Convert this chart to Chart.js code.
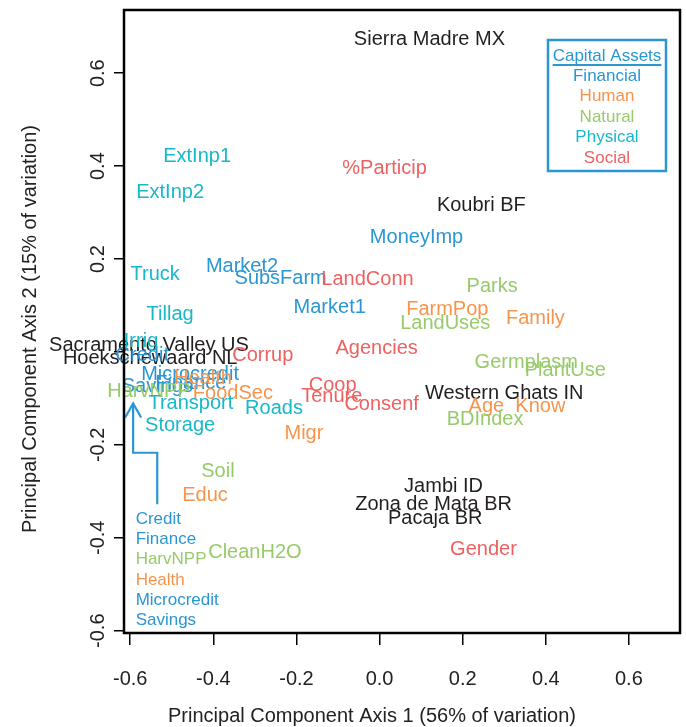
<!DOCTYPE html>
<html>
<head>
<meta charset="utf-8">
<script src="https://cdn.jsdelivr.net/npm/chart.js@4.4.0/dist/chart.umd.min.js"></script>
<style>
  html, body { margin: 0; padding: 0; background: #fff; }
  #wrap { width: 686px; height: 727px; }
</style>
</head>
<body>
<div id="wrap"><canvas id="pca" width="686" height="727"></canvas></div>
<script>
// capital asset groups
const groups = ["Financial", "Human", "Natural", "Physical", "Social"];
const groupColors = ["#2A96D2", "#F7944B", "#97CB6A", "#17B9C9", "#EE6161"];
const siteColor = "#231F20";

// study sites
const siteLabels = ["Sierra Madre MX", "Koubri BF", "Sacramento Valley US", "Hoekschewaard NL",
  "Western Ghats IN", "Jambi ID", "Zona de Mata BR", "Pacaja BR"];
const siteX = [0.120, 0.245, -0.555, -0.552, 0.300, 0.154, 0.130, 0.134];
const siteY = [0.676, 0.319, 0.018, -0.010, -0.085, -0.286, -0.323, -0.354];

// asset variables, one set per group
const financialLabels = ["Market2", "SubsFarm", "Market1", "MoneyImp", "Credit", "Microcredit", "Finance", "Savings"];
const financialX = [-0.331, -0.238, -0.120, 0.089, -0.571, -0.456, -0.454, -0.535];
const financialY = [0.189, 0.163, 0.101, 0.250, -0.003, -0.044, -0.064, -0.070];

const humanLabels = ["FarmPop", "Family", "Age", "Know", "Migr", "Educ", "Health", "FoodSec"];
const humanX = [0.163, 0.375, 0.257, 0.387, -0.182, -0.420, -0.425, -0.353];
const humanY = [0.096, 0.077, -0.113, -0.113, -0.172, -0.304, -0.053, -0.085];

const naturalLabels = ["Parks", "LandUses", "Germplasm", "PlantUse", "BDIndex", "Soil", "CleanH2O", "HarvNPP"];
const naturalX = [0.271, 0.158, 0.353, 0.447, 0.254, -0.389, -0.300, -0.555];
const naturalY = [0.146, 0.066, -0.019, -0.036, -0.142, -0.254, -0.427, -0.081];

const physicalLabels = ["ExtInp1", "ExtInp2", "Truck", "Tillag", "Irrig", "Transport", "Storage", "Roads"];
const physicalX = [-0.439, -0.504, -0.540, -0.504, -0.574, -0.454, -0.480, -0.254];
const physicalY = [0.425, 0.347, 0.170, 0.085, 0.027, -0.107, -0.155, -0.118];

const socialLabels = ["%Particip", "LandConn", "Agencies", "Corrup", "Coop", "Tenure", "Consenf", "Gender"];
const socialX = [0.012, -0.029, -0.007, -0.281, -0.113, -0.115, 0.005, 0.250];
const socialY = [0.399, 0.161, 0.012, -0.003, -0.068, -0.092, -0.109, -0.420];

// callout for the crowded cluster on the left
const calloutLabels = ["Credit", "Finance", "HarvNPP", "Health", "Microcredit", "Savings"];
const calloutGroups = ["Financial", "Financial", "Natural", "Human", "Financial", "Financial"];
const calloutStart = { x: -0.587, y: -0.360, step: 0.0437 };
const arrowPathX = [-0.535, -0.535, -0.593, -0.593];
const arrowPathY = [-0.328, -0.217, -0.217, -0.111];

const xTitle = "Principal Component Axis 1 (56% of variation)";
const yTitle = "Principal Component Axis 2 (15% of variation)";

const FONT = "'Liberation Sans', Arial, Helvetica, sans-serif";

function points(labels, xs, ys) {
  return labels.map((l, i) => ({ x: xs[i], y: ys[i], label: l }));
}

const datasets = [
  { label: "Sites", data: points(siteLabels, siteX, siteY), color: siteColor },
  { label: "Financial", data: points(financialLabels, financialX, financialY), color: groupColors[0] },
  { label: "Human", data: points(humanLabels, humanX, humanY), color: groupColors[1] },
  { label: "Natural", data: points(naturalLabels, naturalX, naturalY), color: groupColors[2] },
  { label: "Physical", data: points(physicalLabels, physicalX, physicalY), color: groupColors[3] },
  { label: "Social", data: points(socialLabels, socialX, socialY), color: groupColors[4] },
].map((d) => ({ ...d, pointRadius: 0, pointHoverRadius: 0, backgroundColor: d.color, borderColor: d.color }));

// writes each point's name at its position
const textLabels = {
  id: "textLabels",
  afterDatasetsDraw(chart) {
    const ctx = chart.ctx;
    ctx.save();
    ctx.font = "20px " + FONT;
    ctx.textAlign = "center";
    ctx.textBaseline = "middle";
    chart.data.datasets.forEach((ds, i) => {
      const meta = chart.getDatasetMeta(i);
      ctx.fillStyle = ds.color;
      meta.data.forEach((el, j) => {
        // canvas "middle" sits a little high compared to R's centring
        ctx.fillText(ds.data[j].label, el.x, el.y + 2);
      });
    });
    ctx.restore();
  },
};

// box, y tick labels, titles, legend and callout
const decorations = {
  id: "decorations",
  afterDraw(chart) {
    const ctx = chart.ctx;
    const a = chart.chartArea;
    const xs = chart.scales.x;
    const ys = chart.scales.y;
    ctx.save();

    // y tick labels, rotated like R's default
    ctx.fillStyle = "#222";
    ctx.font = "20px " + FONT;
    ctx.textAlign = "center";
    ctx.textBaseline = "middle";
    ys.ticks.forEach((t) => {
      if (Math.abs(t.value) < 1e-9) return;
      ctx.save();
      ctx.translate(98, ys.getPixelForValue(t.value));
      ctx.rotate(-Math.PI / 2);
      ctx.fillText(t.value.toFixed(1), 0, 0);
      ctx.restore();
    });

    // axis titles
    ctx.fillText(xTitle, 372, 716);
    ctx.save();
    ctx.translate(30, 329);
    ctx.rotate(-Math.PI / 2);
    ctx.fillText(yTitle, 0, 0);
    ctx.restore();

    // callout list
    ctx.font = "17px " + FONT;
    ctx.textAlign = "left";
    const lx = xs.getPixelForValue(calloutStart.x);
    calloutLabels.forEach((l, i) => {
      ctx.fillStyle = groupColors[groups.indexOf(calloutGroups[i])];
      ctx.fillText(l, lx, ys.getPixelForValue(calloutStart.y - i * calloutStart.step));
    });

    // callout arrow
    ctx.strokeStyle = groupColors[0];
    ctx.lineWidth = 2.2;
    ctx.beginPath();
    arrowPathX.forEach((v, i) => {
      const px = xs.getPixelForValue(v);
      const py = ys.getPixelForValue(arrowPathY[i]);
      if (i === 0) ctx.moveTo(px, py); else ctx.lineTo(px, py);
    });
    ctx.stroke();
    const tx = xs.getPixelForValue(arrowPathX[3]);
    const ty = ys.getPixelForValue(arrowPathY[3]);
    ctx.beginPath();
    ctx.moveTo(tx - 8, ty + 14);
    ctx.lineTo(tx, ty);
    ctx.lineTo(tx + 8, ty + 14);
    ctx.stroke();

    // legend box
    const bx = a.right - 132, by = a.top + 30, bw = 118, bh = 131;
    ctx.strokeStyle = groupColors[0];
    ctx.lineWidth = 2.5;
    ctx.strokeRect(bx, by, bw, bh);
    const cx = bx + bw / 2;
    ctx.textAlign = "center";
    ctx.font = "17px " + FONT;
    ctx.fillStyle = groupColors[0];
    ctx.fillText("Capital Assets", cx, by + 16);
    const uw = ctx.measureText("Capital Assets").width;
    ctx.lineWidth = 1.8;
    ctx.beginPath();
    ctx.moveTo(cx - uw / 2, by + 25);
    ctx.lineTo(cx + uw / 2, by + 25);
    ctx.stroke();
    groups.forEach((g, i) => {
      ctx.fillStyle = groupColors[i];
      ctx.fillText(g, cx, by + 36 + i * 20.5);
    });

    // plot frame
    ctx.strokeStyle = "#000";
    ctx.lineWidth = 2.5;
    ctx.strokeRect(a.left, a.top, a.right - a.left, a.bottom - a.top);
    ctx.restore();
  },
};

new Chart(document.getElementById("pca"), {
  type: "scatter",
  data: { datasets: datasets },
  options: {
    responsive: false,
    animation: false,
    devicePixelRatio: 1,
    layout: { padding: { top: 10, right: 6, left: 0, bottom: 0 } },
    plugins: {
      legend: { display: false },
      tooltip: { enabled: false },
    },
    scales: {
      x: {
        type: "linear",
        min: -0.615,
        max: 0.723,
        afterFit: (s) => { s.height = 94; },
        border: { display: false },
        grid: { display: true, drawOnChartArea: false, drawTicks: true, tickLength: 12, color: "#000", lineWidth: 1.5 },
        ticks: {
          stepSize: 0.2,
          includeBounds: false,
          padding: 22,
          color: "#222",
          font: { family: FONT, size: 20 },
          callback: (v) => (Math.abs(v) < 1e-9 ? "0.0" : Number(v).toFixed(1)),
        },
      },
      y: {
        type: "linear",
        min: -0.605,
        max: 0.736,
        afterFit: (s) => { s.width = 124; },
        border: { display: false },
        grid: { display: true, drawOnChartArea: false, drawTicks: true, tickLength: 10, color: "#000", lineWidth: 1.5 },
        ticks: { stepSize: 0.2, includeBounds: false, display: false },
      },
    },
  },
  plugins: [textLabels, decorations],
});
</script>
</body>
</html>
